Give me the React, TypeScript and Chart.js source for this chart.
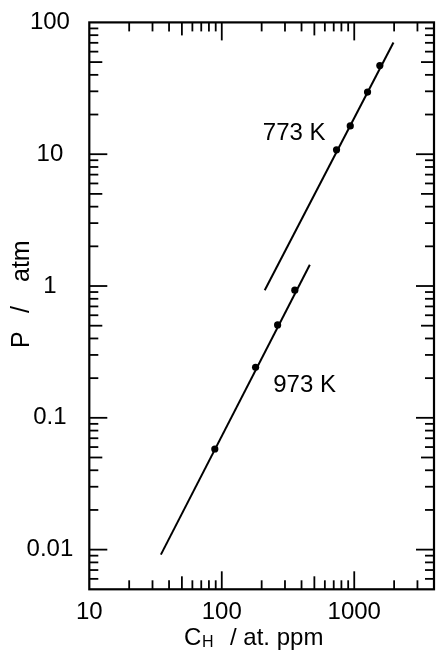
import React, { useEffect, useRef } from "react";
import { Chart, registerables } from "chart.js";
Chart.register(...registerables);

// Axis tick values
const xTicks = [10, 100, 1000];
const yTicks = [0.01, 0.1, 1, 10, 100];

// 773 K: measured points and fitted line
const c773 = [735, 933, 1260, 1560];
const p773 = [10.8, 16.4, 29.6, 47];
const c773Fit = [211, 1977];
const p773Fit = [0.93, 70.3];

// 973 K: measured points and fitted line
const c973 = [88.6, 180, 264, 356];
const p973 = [0.058, 0.242, 0.507, 0.93];
const c973Fit = [34.7, 462];
const p973Fit = [0.00917, 1.45];

// Series labels, anchored in data coordinates
const seriesLabels = ["773 K", "973 K"];
const labelC = [352, 422];
const labelP = [14.4, 0.177];

const FONT = "'Liberation Sans', Arial, sans-serif";

const pts = (xs: number[], ys: number[]) => xs.map((x, i) => ({ x, y: ys[i] }));

const framePlugin = {
  id: "frameTicks",
  afterDraw(chart: any) {
    const { ctx, chartArea, scales } = chart;
    const { left, right, top, bottom } = chartArea;
    const xs = scales.x;
    const ys = scales.y;
    ctx.save();
    ctx.strokeStyle = "#000";
    ctx.lineWidth = 2.2;
    ctx.strokeRect(left, top, right - left, bottom - top);
    ctx.lineWidth = 1.8;
    const seg = (x1: number, y1: number, x2: number, y2: number) => {
      ctx.beginPath();
      ctx.moveTo(x1, y1);
      ctx.lineTo(x2, y2);
      ctx.stroke();
    };
    const len = (m: number) => (m === 1 ? 18 : m === 5 ? 13 : 9);
    for (let e = 0; e <= 4; e++) {
      for (let m = 1; m <= 9; m++) {
        const v = m * Math.pow(10, e);
        if (v <= xs.min * 1.0001 || v >= xs.max * 0.9999) continue;
        const px = xs.getPixelForValue(v);
        seg(px, bottom, px, bottom - len(m));
        seg(px, top, px, top + len(m));
      }
    }
    for (let e = -3; e <= 2; e++) {
      for (let m = 1; m <= 9; m++) {
        const v = m * Math.pow(10, e);
        if (v <= ys.min * 1.0001 || v >= ys.max * 0.9999) continue;
        const py = ys.getPixelForValue(v);
        seg(left, py, left + len(m), py);
        seg(right, py, right - len(m), py);
      }
    }
    // series labels
    ctx.fillStyle = "#000";
    ctx.font = `24px ${FONT}`;
    ctx.textAlign = "center";
    ctx.textBaseline = "middle";
    seriesLabels.forEach((t, i) => {
      ctx.fillText(t, xs.getPixelForValue(labelC[i]), ys.getPixelForValue(labelP[i]));
    });
    // y title
    ctx.save();
    ctx.translate(22, 293);
    ctx.rotate(-Math.PI / 2);
    ctx.textAlign = "left";
    ctx.textBaseline = "middle";
    ctx.font = `25px ${FONT}`;
    ctx.fillText("P", -55, 0);
    ctx.fillText("/", -20, 0);
    ctx.fillText("atm", 11, 0);
    ctx.restore();
    // x title
    ctx.textAlign = "left";
    ctx.textBaseline = "alphabetic";
    ctx.font = `24px ${FONT}`;
    ctx.fillText("C", 184, 645);
    ctx.font = `16px ${FONT}`;
    ctx.fillText("H", 202, 647);
    ctx.font = `24px ${FONT}`;
    ctx.fillText("/ at. ppm", 230, 645);
    ctx.restore();
  },
};

export default function App() {
  const ref = useRef<HTMLCanvasElement | null>(null);
  useEffect(() => {
    if (!ref.current) return;
    const lineStyle = {
      showLine: true,
      borderColor: "#000",
      borderWidth: 2,
      pointRadius: 0,
      fill: false,
    };
    const dotStyle = {
      showLine: false,
      pointRadius: 3.6,
      backgroundColor: "#000",
      borderColor: "#000",
      borderWidth: 0,
    };
    const chart = new Chart(ref.current, {
      type: "scatter",
      data: {
        datasets: [
          { ...lineStyle, data: pts(c773Fit, p773Fit) },
          { ...dotStyle, data: pts(c773, p773) },
          { ...lineStyle, data: pts(c973Fit, p973Fit) },
          { ...dotStyle, data: pts(c973, p973) },
        ],
      },
      options: {
        animation: false,
        responsive: false,
        devicePixelRatio: 1,
        layout: { padding: { top: 18, right: 3.4, left: 0, bottom: 0 } },
        plugins: { legend: { display: false }, tooltip: { enabled: false } },
        scales: {
          x: {
            type: "logarithmic",
            min: 10,
            max: 4000,
            grid: { display: false },
            border: { display: false },
            afterBuildTicks: (s: any) => {
              s.ticks = xTicks.map((v) => ({ value: v }));
            },
            afterFit: (s: any) => {
              s.height = 64.7;
            },
            ticks: {
              callback: (v: any) => String(v),
              font: { family: FONT, size: 24 },
              color: "#000",
              padding: 1,
              maxRotation: 0,
              autoSkip: false,
            },
          },
          y: {
            type: "logarithmic",
            min: 0.005,
            max: 100,
            grid: { display: false },
            border: { display: false },
            afterBuildTicks: (s: any) => {
              s.ticks = yTicks.map((v) => ({ value: v }));
            },
            afterFit: (s: any) => {
              s.width = 89.3;
            },
            ticks: {
              callback: (v: any) => String(v),
              font: { family: FONT, size: 24 },
              color: "#000",
              padding: 8,
              crossAlign: "center",
              autoSkip: false,
            },
          },
        },
      },
      plugins: [framePlugin],
    } as any);
    return () => chart.destroy();
  }, []);
  return (
    <div style={{ position: "absolute", left: 0, top: 0, width: 438, height: 654, background: "#fff" }}>
      <canvas ref={ref} width={438} height={654} />
    </div>
  );
}
